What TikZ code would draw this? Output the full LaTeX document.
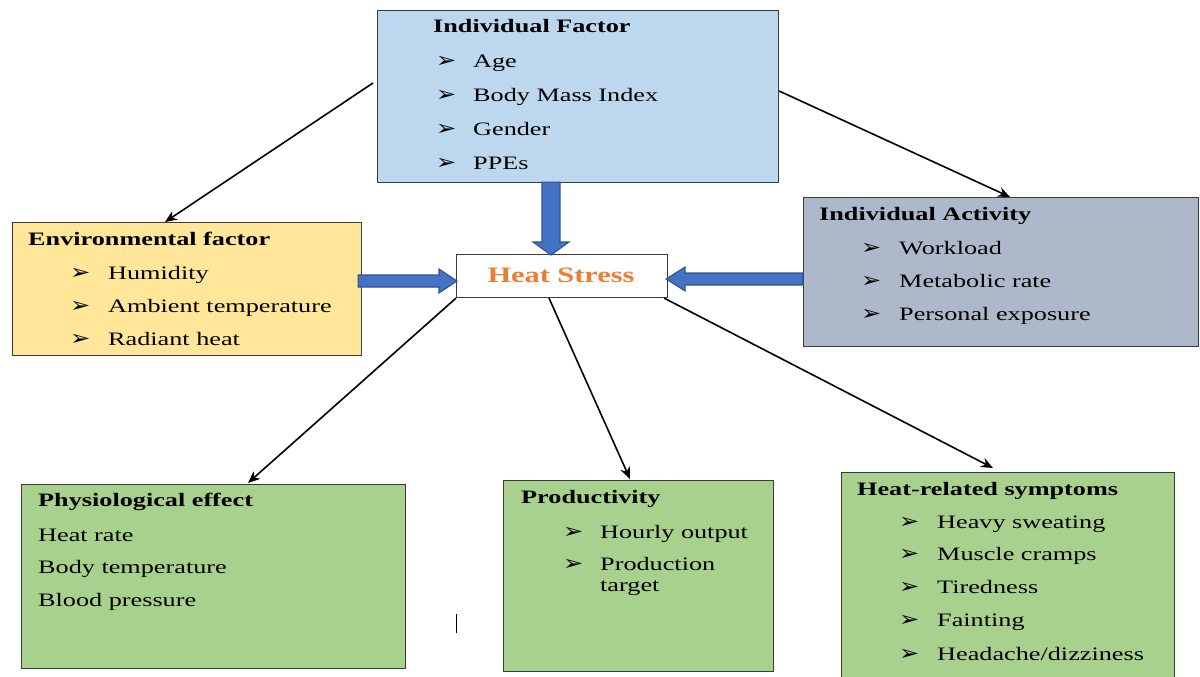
\documentclass[tikz,border=0pt]{standalone}
\usepackage{fontspec}
\setmainfont{Liberation Serif}[FakeStretch=1.38]
\newfontfamily\bulletfont{DejaVu Sans}[FakeStretch=1.15]
\usetikzlibrary{calc,arrows.meta}
\definecolor{indblue}{HTML}{BDD7EE}
\definecolor{envyellow}{HTML}{FFE699}
\definecolor{actgrey}{HTML}{ADB9CA}
\definecolor{effgreen}{HTML}{A9D18E}
\definecolor{boxborder}{HTML}{3B3B3B}
\definecolor{hsorange}{HTML}{ED7D31}
\definecolor{arrowblue}{HTML}{4472C4}
\definecolor{arrowedge}{HTML}{2F528F}
\newcommand{\bul}{{\bulletfont\fontsize{21}{24}\selectfont ➢}}
\tikzset{
  panel/.style={draw=boxborder, line width=1.1pt, anchor=north west, inner sep=0pt},
  txt/.style={anchor=west, inner sep=0pt, text height=13pt, text depth=0pt, font=\fontsize{19}{22}\selectfont},
  head/.style={txt, font=\fontsize{19}{22}\selectfont\bfseries},
  bulnode/.style={anchor=west, inner sep=0pt, text height=13pt, text depth=0pt},
  thinarrow/.style={line width=1.6pt, -{Stealth[length=12pt,width=10pt]}},
  barrow/.style={fill=arrowblue, draw=arrowedge, line width=1.1pt, line join=miter}
}
\begin{document}
\begin{tikzpicture}[x=1pt,y=-1pt]
\useasboundingbox (0,0) rectangle (1200,677);

% boxes
\node[panel, fill=indblue, minimum width=401pt, minimum height=172pt] (ind) at (377,10) {};
\node[panel, fill=envyellow, minimum width=349pt, minimum height=133pt] (env) at (12,222) {};
\node[panel, fill=white, minimum width=211pt, minimum height=43pt] (hs) at (456,254) {};
\node[panel, fill=actgrey, minimum width=395pt, minimum height=149pt] (act) at (803,197) {};
\node[panel, fill=effgreen, minimum width=384pt, minimum height=184pt] (phys) at (21,484) {};
\node[panel, fill=effgreen, minimum width=270pt, minimum height=191pt] (prod) at (503,480) {};
\node[panel, fill=effgreen, minimum width=333pt, minimum height=210pt] (sym) at (841,472) {};

% Individual Factor
\node[head] (indh) at (433,26) {Individual Factor};
\node[bulnode] (indb1) at (436,61) {\bul};
\node[txt] (indt1) at (473,61) {Age};
\node[bulnode] (indb2) at (436,95) {\bul};
\node[txt] (indt2) at (473,95) {Body Mass Index};
\node[bulnode] (indb3) at (436,129) {\bul};
\node[txt] (indt3) at (473,129) {Gender};
\node[bulnode] (indb4) at (436,163) {\bul};
\node[txt] (indt4) at (473,163) {PPEs};

% Environmental factor
\node[head] (envh) at (28,239) {Environmental factor};
\node[bulnode] (envb1) at (70,273) {\bul};
\node[txt] (envt1) at (108,273) {Humidity};
\node[bulnode] (envb2) at (70,306) {\bul};
\node[txt] (envt2) at (108,306) {Ambient temperature};
\node[bulnode] (envb3) at (70,339) {\bul};
\node[txt] (envt3) at (108,339) {Radiant heat};

% Heat Stress
\node[inner sep=0pt, text=hsorange, font=\fontsize{22}{26}\selectfont\bfseries] (hst) at (561,275) {Heat Stress};

% Individual Activity
\node[head] (acth) at (819,214) {Individual Activity};
\node[bulnode] (actb1) at (861,248) {\bul};
\node[txt] (actt1) at (899,248) {Workload};
\node[bulnode] (actb2) at (861,281) {\bul};
\node[txt] (actt2) at (899,281) {Metabolic rate};
\node[bulnode] (actb3) at (861,314) {\bul};
\node[txt] (actt3) at (899,314) {Personal exposure};

% Physiological effect
\node[head] (physh) at (38,500) {Physiological effect};
\node[txt] (phyt1) at (38,535) {Heat rate};
\node[txt] (phyt2) at (38,567) {Body temperature};
\node[txt] (phyt3) at (38,600) {Blood pressure};

% Productivity
\node[head] (prodh) at (521,497) {Productivity};
\node[bulnode] (prodb1) at (563,532) {\bul};
\node[txt] (prodt1) at (600,532) {Hourly output};
\node[bulnode] (prodb2) at (563,564) {\bul};
\node[txt] (prodt2) at (600,564) {Production};
\node[txt] (prodt3) at (600,585) {target};

% Heat-related symptoms
\node[head] (symh) at (857,489) {Heat-related symptoms};
\node[bulnode] (symb1) at (899,522) {\bul};
\node[txt] (symt1) at (937,522) {Heavy sweating};
\node[bulnode] (symb2) at (899,554) {\bul};
\node[txt] (symt2) at (937,554) {Muscle cramps};
\node[bulnode] (symb3) at (899,587) {\bul};
\node[txt] (symt3) at (937,587) {Tiredness};
\node[bulnode] (symb4) at (899,620) {\bul};
\node[txt] (symt4) at (937,620) {Fainting};
\node[bulnode] (symb5) at (899,654) {\bul};
\node[txt] (symt5) at (937,654) {Headache/dizziness};

% stray cursor mark
\coordinate (cur1) at (456,614);
\coordinate (cur2) at (456,633);
\draw[line width=1pt] (cur1) -- (cur2);

% thin arrows
\coordinate (s1) at (373,83);
\draw[thinarrow] (s1) -- (env.north -| 165,0);
\draw[thinarrow] (ind.east |- 0,91) -- (act.north -| 1010,0);
\draw[thinarrow] (hs.south west) -- ($(phys.north -| 248,0)+(0,-1)$);
\draw[thinarrow] (hs.south -| 549,0) -- ($(prod.north -| 630,0)+(0,-1)$);
\draw[thinarrow] ($(hs.south east)+(-4,0)$) -- ($(sym.north -| 993,0)+(0,-4)$);

% block arrows
\coordinate (dA) at (ind.south -| 551,0);
\coordinate (dB) at (hs.north -| 551,0);
\draw[barrow] ($(dA)+(-9,-1)$) -- ($(dB)+(-9,-12)$) -- ($(dB)+(-18,-12)$) -- ($(dB)+(0,1)$)
  -- ($(dB)+(18,-12)$) -- ($(dB)+(9,-12)$) -- ($(dA)+(9,-1)$) -- cycle;

\coordinate (rA) at (env.east |- 0,281);
\coordinate (rB) at (hs.west |- 0,281);
\draw[barrow] ($(rA)+(-4,-6)$) -- ($(rB)+(-17,-6)$) -- ($(rB)+(-17,-12)$) -- ($(rB)+(1,0)$)
  -- ($(rB)+(-17,12)$) -- ($(rB)+(-17,6)$) -- ($(rA)+(-4,6)$) -- cycle;

\coordinate (lA) at (act.west |- 0,279);
\coordinate (lB) at (hs.east |- 0,279);
\draw[barrow] ($(lA)+(0,-6)$) -- ($(lB)+(17,-6)$) -- ($(lB)+(17,-12)$) -- ($(lB)+(-2,0)$)
  -- ($(lB)+(17,12)$) -- ($(lB)+(17,6)$) -- ($(lA)+(0,6)$) -- cycle;
\end{tikzpicture}
\end{document}
